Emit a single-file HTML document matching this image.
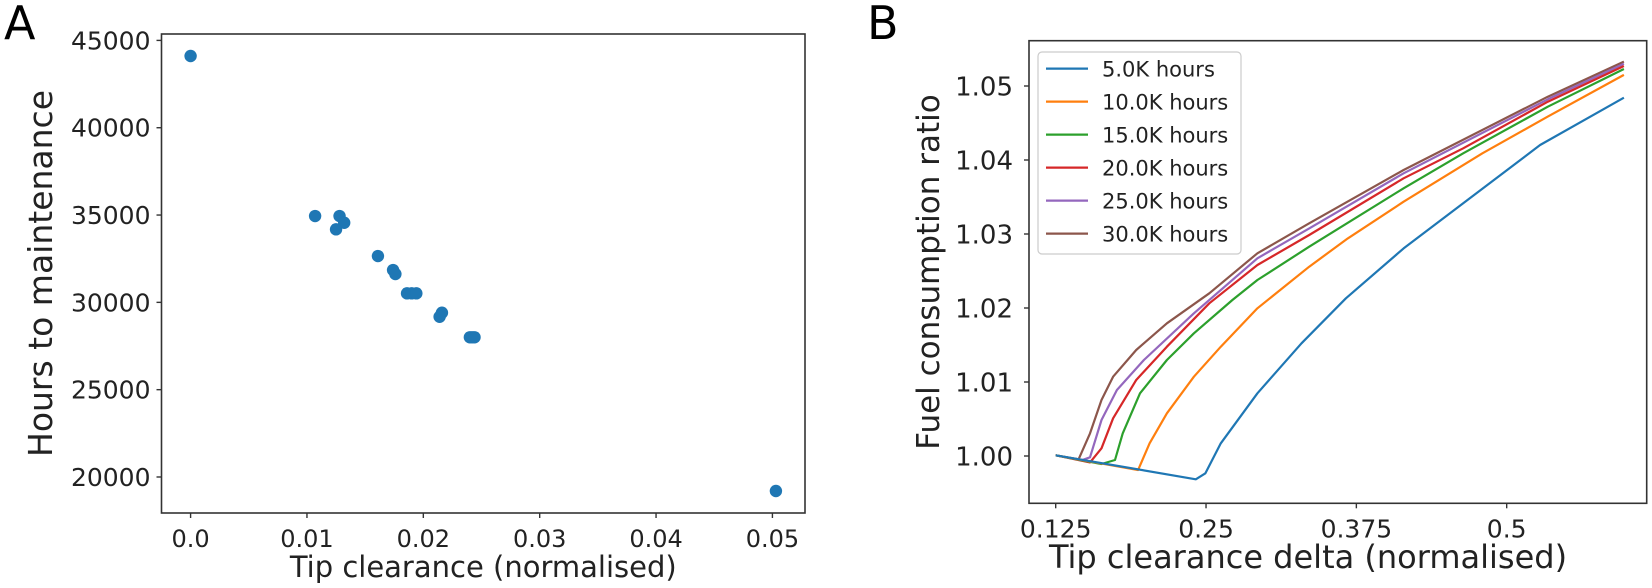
<!DOCTYPE html>
<html><head><meta charset="utf-8"><style>
html,body{margin:0;padding:0;background:#fff;}
svg{display:block;font-family:"DejaVu Sans","Liberation Sans",sans-serif;}
</style></head><body>
<svg id="fig" width="1652" height="588" viewBox="0 0 1652 588" xmlns="http://www.w3.org/2000/svg">
<text x="4" y="39" font-size="46" fill="#000">A</text>
<text x="867" y="39" font-size="46" fill="#000">B</text>
<g id="pa"></g>
<g id="pb"></g>
</svg>
<script>
// Panel A data
const clearance = [0.0, 0.0107, 0.0128, 0.0132, 0.0125, 0.0161, 0.0174, 0.0176, 0.0186, 0.0190, 0.0194, 0.0216, 0.0214, 0.0240, 0.0242, 0.0244, 0.0503];
const hours = [44107, 34943, 34943, 34559, 34181, 32652, 31851, 31622, 30516, 30516, 30516, 29405, 29175, 28000, 28000, 28000, 19198];
const aXTicks = [0.0, 0.01, 0.02, 0.03, 0.04, 0.05];
const aXTickLabels = ["0.0", "0.01", "0.02", "0.03", "0.04", "0.05"];
const aYTicks = [20000, 25000, 30000, 35000, 40000, 45000];
// Panel B data
const seriesNames = ["5.0K hours", "10.0K hours", "15.0K hours", "20.0K hours", "25.0K hours", "30.0K hours"];
const seriesColors = ["#1f77b4", "#ff7f0e", "#2ca02c", "#d62728", "#9467bd", "#8c564b"];
const blueX = [0.125, 0.2415, 0.2495, 0.2623, 0.2927, 0.3294, 0.3663, 0.4143, 0.4638, 0.5278, 0.5975];
const blueY = [1.0001, 0.99685, 0.99766, 1.00171, 1.00847, 1.01523, 1.02131, 1.02806, 1.03415, 1.04203, 1.04842];
const orangeX = [0.125, 0.1935, 0.2031, 0.2175, 0.2399, 0.2623, 0.2927, 0.3358, 0.3679, 0.4143, 0.4798, 0.5342, 0.5975];
const orangeY = [1.0001, 0.99811, 1.00171, 1.00577, 1.01072, 1.01477, 1.01996, 1.02558, 1.02941, 1.03437, 1.0409, 1.04586, 1.0515];
const greenX = [0.125, 0.1631, 0.1743, 0.1807, 0.1951, 0.2175, 0.2399, 0.2719, 0.2927, 0.3358, 0.4143, 0.4638, 0.5342, 0.5975];
const greenY = [1.0001, 0.99892, 0.99946, 1.00306, 1.00847, 1.01297, 1.01658, 1.02108, 1.02378, 1.02829, 1.03617, 1.0409, 1.0472, 1.0523];
const redX = [0.125, 0.1535, 0.1631, 0.1727, 0.1919, 0.2175, 0.2527, 0.2927, 0.3358, 0.4143, 0.4638, 0.5342, 0.5975];
const redY = [1.0001, 0.99914, 1.00104, 1.0051, 1.01027, 1.01477, 1.02063, 1.02581, 1.02986, 1.03753, 1.04158, 1.04788, 1.0527];
const purpleX = [0.125, 0.1471, 0.1535, 0.1631, 0.1759, 0.1983, 0.2399, 0.2927, 0.3358, 0.4143, 0.5342, 0.5975];
const purpleY = [1.0001, 0.99946, 0.99982, 1.00486, 1.00892, 1.01297, 1.01928, 1.02671, 1.03076, 1.0382, 1.0482, 1.0530];
const brownX = [0.125, 0.144, 0.1535, 0.1631, 0.1727, 0.1919, 0.2175, 0.2527, 0.2927, 0.3358, 0.4143, 0.5342, 0.5975];
const brownY = [1.0001, 0.99955, 1.00306, 1.00757, 1.01072, 1.01432, 1.01793, 1.02198, 1.02739, 1.03144, 1.03865, 1.04856, 1.0533];
const bXTicks = [0.125, 0.25, 0.375, 0.5];
const bXTickLabels = ["0.125", "0.25", "0.375", "0.5"];
const bYTicks = [1.00, 1.01, 1.02, 1.03, 1.04, 1.05];
const bYTickLabels = ["1.00", "1.01", "1.02", "1.03", "1.04", "1.05"];

const NS = "http://www.w3.org/2000/svg";
function mk(parent, tag, attrs, text) {
  const e = document.createElementNS(NS, tag);
  for (const k in attrs) e.setAttribute(k, attrs[k]);
  if (text !== undefined) e.textContent = text;
  parent.appendChild(e);
  return e;
}

// ---------- Panel A ----------
const A = {l:161.5, r:805, t:34, b:513, x0:-0.0025, x1:0.0528, y0:17938, y1:45367};
const ax = v => A.l + (v - A.x0) / (A.x1 - A.x0) * (A.r - A.l);
const ay = v => A.b - (v - A.y0) / (A.y1 - A.y0) * (A.b - A.t);
const pa = document.getElementById('pa');
for (let i = 0; i < clearance.length; i++) {
  const c = mk(pa, 'circle', {cx: ax(clearance[i]), cy: ay(hours[i]), r: 6.2, fill: '#1f77b4'});
  
  
}
let fr = mk(pa, 'rect', {x: A.l, y: A.t, width: A.r - A.l, height: A.b - A.t, fill: 'none', stroke: '#333', 'stroke-width': 1.6});


aXTicks.forEach((v, i) => {
  const x = ax(v);
  mk(pa, 'line', {x1: x, x2: x, y1: A.b, y2: A.b + 5, stroke: '#333', 'stroke-width': 1.4});
  const t = mk(pa, 'text', {x: x, y: A.b + 34, 'font-size': 24, 'text-anchor': 'middle', fill: '#222'}, aXTickLabels[i]);
  
  
});
aYTicks.forEach(v => {
  const y = ay(v);
  mk(pa, 'line', {x1: A.l - 5, x2: A.l, y1: y, y2: y, stroke: '#333', 'stroke-width': 1.4});
  const t = mk(pa, 'text', {x: A.l - 11, y: y + 9, 'font-size': 25, 'text-anchor': 'end', fill: '#222'}, String(v));
  
  
});
let xt = mk(pa, 'text', {x: (A.l + A.r) / 2, y: 577, 'font-size': 29, 'text-anchor': 'middle', fill: '#222'}, 'Tip clearance (normalised)');


let yt = mk(pa, 'text', {x: 0, y: 0, 'font-size': 33, 'text-anchor': 'middle', fill: '#222', transform: 'translate(52,' + ((A.t + A.b) / 2) + ') rotate(-90)'}, 'Hours to maintenance');



// ---------- Panel B ----------
const B = {l:1029, r:1646.7, t:40.7, b:503.3};
const bx = v => 1055.7 + (v - 0.125) / 0.125 * 150.33;
const by = v => 456 - (v - 1.0) * 7400;
const pb = document.getElementById('pb');
const allX = [blueX, orangeX, greenX, redX, purpleX, brownX];
const allY = [blueY, orangeY, greenY, redY, purpleY, brownY];
for (let s = allX.length - 1; s >= 0; s--) {
  const pts = allX[s].map((v, i) => bx(v).toFixed(1) + ',' + by(allY[s][i]).toFixed(1)).join(' ');
  const pl = mk(pb, 'polyline', {points: pts, fill: 'none', stroke: seriesColors[s], 'stroke-width': 2.2, 'stroke-linejoin': 'round'});
  
  
}
let fb = mk(pb, 'rect', {x: B.l, y: B.t, width: B.r - B.l, height: B.b - B.t, fill: 'none', stroke: '#333', 'stroke-width': 1.6});


bXTicks.forEach((v, i) => {
  const x = bx(v);
  mk(pb, 'line', {x1: x, x2: x, y1: B.b, y2: B.b + 5, stroke: '#333', 'stroke-width': 1.4});
  const t = mk(pb, 'text', {x: x, y: B.b + 34, 'font-size': 25, 'text-anchor': 'middle', fill: '#222'}, bXTickLabels[i]);
  
  
});
bYTicks.forEach((v, i) => {
  const y = by(v);
  mk(pb, 'line', {x1: B.l - 5, x2: B.l, y1: y, y2: y, stroke: '#333', 'stroke-width': 1.4});
  const t = mk(pb, 'text', {x: 1013, y: y + 9.5, 'font-size': 26, 'text-anchor': 'end', fill: '#222'}, bYTickLabels[i]);
  
  
});
let bxt = mk(pb, 'text', {x: 1308, y: 568, 'font-size': 32, 'text-anchor': 'middle', fill: '#222'}, 'Tip clearance delta (normalised)');


let byt = mk(pb, 'text', {x: 0, y: 0, 'font-size': 31, 'text-anchor': 'middle', fill: '#222', transform: 'translate(939,272) rotate(-90)'}, 'Fuel consumption ratio');



// legend
const lg = mk(pb, 'g', {});


mk(lg, 'rect', {x: 1038, y: 52, width: 203, height: 202, rx: 4, fill: '#fff', 'fill-opacity': 0.85, stroke: '#ccc', 'stroke-width': 1.2});
seriesNames.forEach((n, i) => {
  const y = 68.6 + i * 33;
  const row = mk(lg, 'g', {});
  
  
  mk(row, 'line', {x1: 1046, x2: 1088, y1: y, y2: y, stroke: seriesColors[i], 'stroke-width': 2.2});
  mk(row, 'text', {x: 1102, y: y + 8, 'font-size': 21, fill: '#222'}, n);
});
</script>
</body></html>
